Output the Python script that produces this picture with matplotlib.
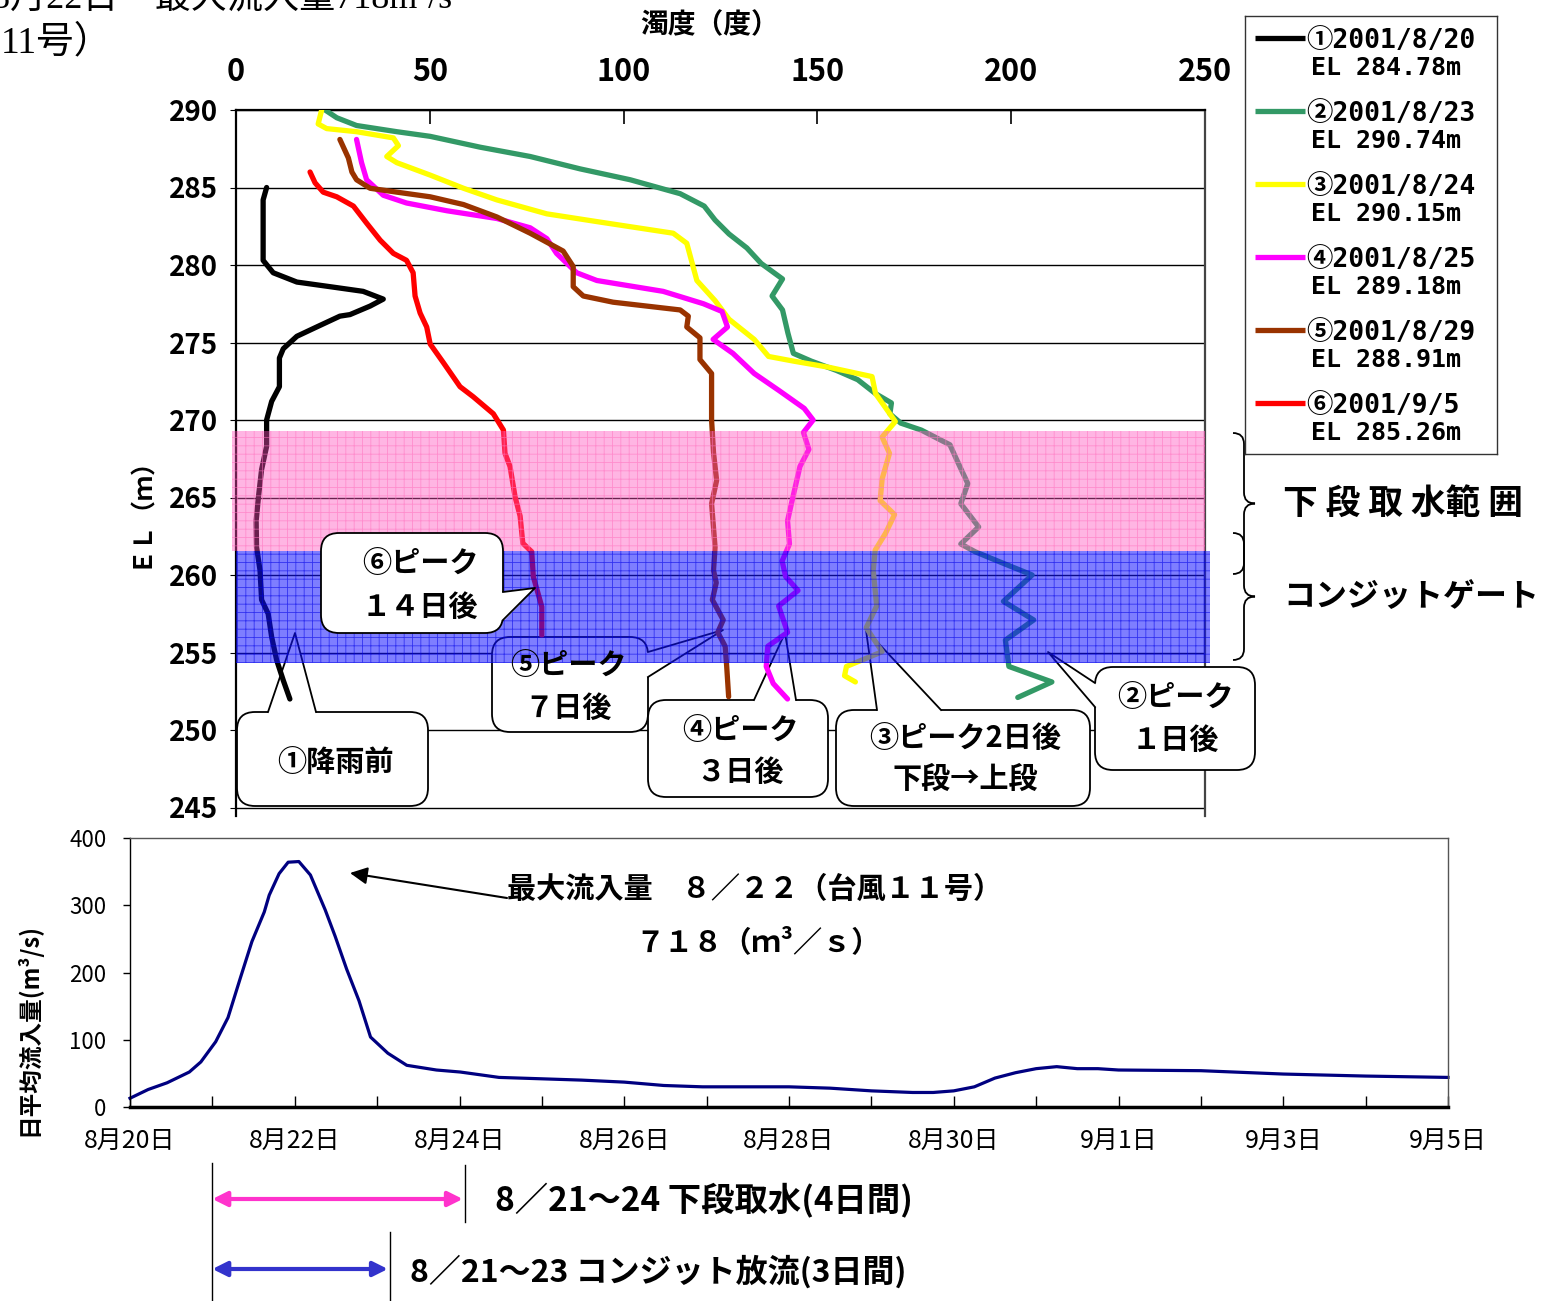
import matplotlib
matplotlib.use("Agg")
import matplotlib.pyplot as plt
import matplotlib.transforms as mtransforms
from matplotlib.patches import FancyBboxPatch, Polygon, PathPatch
from matplotlib.path import Path

plt.rcParams["font.family"] = ["Noto Sans CJK JP", "DejaVu Sans"]
plt.rcParams["hatch.linewidth"] = 0.6

W, H = 1542, 1301
MONO = ["DejaVu Sans Mono", "Noto Sans CJK JP"]
SERIF = ["Liberation Serif", "Noto Sans CJK JP"]

# --- turbidity profiles (turbidity in deg, elevation in m)
p1_turb = [7.9, 7.0, 7.0, 9.6, 15.7, 24.3, 32.8, 38.0, 34.6, 29.4, 26.8, 20.8, 15.7, 12.2, 11.2,
           11.2, 9.2, 7.9, 7.9, 6.6, 5.8, 5.2, 5.3, 6.2, 6.6, 8.3, 9.2, 10.5, 12.2, 13.9]
p1_el = [285.0, 284.2, 280.3, 279.5, 278.9, 278.6, 278.3, 277.8, 277.35, 276.8, 276.7, 276.0, 275.4,
         274.6, 274.0, 272.15, 271.2, 270.0, 268.3, 266.8, 265.05, 263.5, 261.8, 260.3, 258.4, 257.5,
         256.0, 254.5, 253.2, 252.0]

p2_turb = [23.0, 26.0, 31.1, 41.5, 50.1, 63.0, 75.9, 88.8, 101.7, 114.6, 120.8, 123.6, 127.2, 131.8,
           135.5, 141.0, 138.3, 141.0, 142.4, 143.8, 148.4, 154.9, 160.4, 165.0, 169.1, 168.7, 171.5,
           176.8, 184.2, 186.0, 188.8, 187.0, 191.6, 187.0, 190.7, 198.0, 205.4, 198.0, 205.8, 198.5,
           199.4, 210.5, 201.7]
p2_el = [290.0, 289.5, 289.0, 288.6, 288.3, 287.6, 287.0, 286.2, 285.5, 284.6, 283.8, 282.9, 282.0,
         281.1, 280.1, 279.1, 278.0, 277.1, 275.6, 274.3, 273.8, 273.2, 272.6, 271.7, 271.1, 270.4,
         269.8, 269.35, 268.4, 267.4, 265.9, 264.6, 263.1, 262.0, 261.5, 260.75, 260.0, 258.3, 257.1,
         255.8, 254.1, 253.1, 252.1]

p3_turb = [22.1, 21.2, 23.4, 31.1, 40.6, 41.9, 38.9, 41.5, 50.1, 58.7, 67.3, 80.2, 93.1, 112.8, 116.3,
           118.9, 123.6, 127.2, 133.7, 137.4, 143.8, 153.0, 164.1, 165.0, 170.1, 166.7, 168.6, 166.7,
           166.2, 169.9, 167.6, 164.9, 164.4, 165.3, 162.6, 166.7, 157.5, 157.0, 159.8]
p3_el = [290.0, 289.1, 288.8, 288.6, 288.2, 287.7, 287.0, 286.6, 285.8, 284.95, 284.2, 283.3, 282.8,
         282.05, 281.4, 279.0, 277.7, 276.5, 275.2, 274.1, 273.8, 273.4, 272.8, 271.7, 269.9, 268.9,
         267.85, 266.2, 264.8, 263.9, 262.7, 261.6, 260.3, 258.0, 256.6, 255.05, 254.1, 253.5, 253.1]

p4_turb = [31.1, 32.4, 33.7, 38.0, 44.0, 54.4, 67.3, 75.9, 80.2, 82.7, 87.9, 93.1, 110.2, 120.6, 125.4,
           126.8, 123.1, 128.2, 133.7, 140.1, 146.6, 148.9, 146.4, 147.8, 145.5, 143.7, 142.3, 142.8,
           140.9, 141.8, 145.0, 140.0, 142.3, 137.2, 136.8, 138.6, 142.3]
p4_el = [288.1, 286.6, 285.5, 284.5, 284.0, 283.5, 283.0, 282.4, 281.7, 280.75, 279.5, 279.0, 278.3,
         277.5, 277.0, 276.0, 275.2, 274.3, 273.0, 271.9, 270.75, 270.0, 269.2, 268.1, 267.0, 265.05,
         263.5, 262.0, 260.9, 259.9, 259.0, 258.0, 256.3, 255.4, 254.1, 253.0, 252.0]

p5_turb = [26.8, 29.0, 29.9, 31.1, 34.6, 41.5, 50.1, 58.7, 67.3, 75.9, 84.4, 87.0, 87.0, 89.6, 97.3,
           114.6, 116.7, 116.3, 119.7, 119.7, 122.7, 122.7, 123.2, 124.0, 122.7, 123.6, 123.2, 123.9,
           122.9, 125.7, 124.3, 126.2, 126.6, 127.1]
p5_el = [288.1, 286.9, 286.0, 285.5, 284.95, 284.7, 284.4, 283.9, 283.1, 282.05, 280.9, 279.9, 278.6,
         278.0, 277.6, 277.1, 276.7, 276.0, 275.3, 273.9, 273.0, 270.0, 267.9, 266.1, 264.6, 261.8,
         260.3, 259.5, 258.4, 257.1, 256.3, 255.4, 254.1, 252.15]

p6_turb = [19.1, 20.4, 22.5, 26.0, 30.3, 33.7, 37.2, 40.6, 44.0, 45.7, 46.2, 47.5, 49.2, 50.1, 53.5,
           57.8, 61.2, 66.4, 69.0, 69.4, 70.7, 72.0, 73.3, 74.0, 76.3, 76.7, 78.9, 78.9]
p6_el = [286.0, 285.3, 284.7, 284.4, 283.8, 282.7, 281.6, 280.75, 280.3, 279.5, 278.0, 276.9, 276.0,
         274.9, 273.7, 272.15, 271.5, 270.4, 269.35, 267.85, 267.0, 265.05, 263.8, 262.05, 261.5,
         259.9, 257.95, 256.1]

profile_dates = ["①2001/8/20", "②2001/8/23", "③2001/8/24", "④2001/8/25", "⑤2001/8/29", "⑥2001/9/5"]
profile_levels = ["EL 284.78m", "EL 290.74m", "EL 290.15m", "EL 289.18m", "EL 288.91m", "EL 285.26m"]
profile_colors = ["#000000", "#339966", "#ffff00", "#ff00ff", "#993300", "#ff0000"]
profile_data = [(p1_turb, p1_el), (p2_turb, p2_el), (p3_turb, p3_el),
                (p4_turb, p4_el), (p5_turb, p5_el), (p6_turb, p6_el)]

lower_intake_band = (261.55, 269.3)
conduit_band = (254.3, 261.55)

# --- daily mean inflow (days after 8/20, m3/s)
flow_day = [0, 0.22, 0.45, 0.72, 0.86, 1.04, 1.19, 1.34, 1.48, 1.63, 1.69, 1.81, 1.92, 2.05, 2.19,
            2.37, 2.49, 2.63, 2.78, 2.92, 3.13, 3.36, 3.72, 4.01, 4.48, 5.48, 6.0, 6.48, 6.95, 8.0,
            8.5, 9.0, 9.5, 9.75, 10.0, 10.25, 10.5, 10.75, 11.0, 11.25, 11.5, 11.75, 12.0, 13.0,
            14.0, 15.0, 16.0]
flow = [13, 26, 36, 52, 67, 97, 133, 192, 246, 290, 315, 347, 364, 365, 345, 293, 254, 205, 158,
        104, 80, 62, 55, 52, 44, 40, 37, 32, 30, 30, 28, 24, 21.6, 21.6, 24, 30, 43, 51, 57, 60, 57,
        57, 55, 54, 49, 46, 44]
date_labels = ["8月20日", "8月22日", "8月24日", "8月26日", "8月28日", "8月30日", "9月1日", "9月3日", "9月5日"]
intake_span = (1.0, 4.04)     # 8/21-24 lower intake
conduit_span = (1.0, 3.13)    # 8/21-23 conduit release

fig = plt.figure(figsize=(W / 100, H / 100), dpi=100)
# pixel coordinates, y pointing down
pxT = mtransforms.Affine2D().scale(1.0 / W, -1.0 / H).translate(0, 1) + fig.transFigure

# ---------------- top chart
ax = fig.add_axes([236 / W, 1 - 816 / H, (1205 - 236) / W, (816 - 110) / H])
for (t, e), c in zip(profile_data, profile_colors):
    ax.plot(t, e, color=c, lw=3.8, solid_capstyle="round", solid_joinstyle="round", zorder=3.3)

ax.axhspan(*lower_intake_band, xmin=-0.004, xmax=1.0, facecolor=(1, 0.31, 0.74, 0.42),
           edgecolor=(1, 0.45, 0.75, 0.6), hatch="++", lw=0, zorder=3.5, clip_on=False)
ax.axhspan(*conduit_band, xmin=0, xmax=1.005, facecolor=(0.08, 0.08, 1, 0.55),
           edgecolor=(0, 0, 0.9, 0.6), hatch="++", lw=0, zorder=3.5, clip_on=False)

ax.xaxis.tick_top()
ax.set_xticks([0, 50, 100, 150, 200, 250])
ax.set_yticks(range(245, 291, 5))
ax.tick_params(axis="x", direction="in", length=10, width=1.2, pad=16, labelsize=22)
ax.tick_params(axis="y", direction="out", length=4, pad=9, labelsize=20)
for lbl in ax.get_xticklabels() + ax.get_yticklabels():
    lbl.set_fontweight("bold")
ax.grid(axis="y", color="black", lw=1)
ax.set_axisbelow(True)
ax.spines["bottom"].set_visible(False)
ax.spines["top"].set_linewidth(1.6)
ax.spines["left"].set_linewidth(1.6)
ax.spines["right"].set_linewidth(1.6)
ax.spines["right"].set_color("#444444")

ax.text(710, 25, "濁度（度）", transform=pxT, ha="center", va="center", fontsize=20, fontweight="bold")
ax.text(140, 505, "ＥＬ（ｍ）", transform=pxT, ha="center", va="center", rotation=90,
        fontsize=18, fontweight="bold")


def callout(box, base, inward, tip, texts, z):
    x0, y0, x1, y1 = box
    ax.add_patch(FancyBboxPatch((x0, y0), x1 - x0, y1 - y0, boxstyle="round,pad=0,rounding_size=18",
                                transform=pxT, facecolor="white", edgecolor="black", lw=1.3,
                                zorder=z, clip_on=False))
    (bx1, by1), (bx2, by2) = base
    dx, dy = inward
    pts = [(bx1 + dx, by1 + dy), (bx1 - dx * 0.4, by1 - dy * 0.4), tip,
           (bx2 - dx * 0.4, by2 - dy * 0.4), (bx2 + dx, by2 + dy)]
    ax.add_patch(Polygon(pts, closed=True, transform=pxT, facecolor="white", edgecolor="none",
                         zorder=z + 0.01, clip_on=False))
    ax.plot([bx1, tip[0], bx2], [by1, tip[1], by2], transform=pxT, color="black", lw=1.3,
            zorder=z + 0.02, clip_on=False)
    for s, cx, cy in texts:
        ax.text(cx, cy, s, transform=pxT, ha="center", va="center", fontsize=21,
                fontweight="bold", zorder=4.5)


callout((237, 712, 428, 806), ((268, 712), (316, 712)), (0, 4), (295, 633),
        [("①降雨前", 335, 762)], 3.2)
callout((321, 533, 503, 633), ((503, 592), (503, 620)), (-4, 0), (535, 588),
        [("⑥ピーク", 420, 563), ("１４日後", 420, 607)], 4.0)
callout((492, 637, 648, 732), ((648, 652), (648, 677)), (-4, 0), (723, 630),
        [("⑤ピーク", 568, 665), ("７日後", 568, 708)], 3.2)
callout((648, 700, 828, 797), ((754, 700), (796, 700)), (0, 4), (785, 633),
        [("④ピーク", 740, 730), ("３日後", 740, 772)], 3.2)
callout((836, 710, 1090, 806), ((877, 710), (941, 710)), (0, 4), (866, 630),
        [("③ピーク2日後", 965, 738), ("下段→上段", 965, 779)], 3.2)
callout((1095, 667, 1255, 770), ((1095, 683), (1095, 707)), (4, 0), (1048, 652),
        [("②ピーク", 1175, 697), ("１日後", 1175, 740)], 3.2)


def brace(x0, y0, y1, d=11):
    ym = (y0 + y1) / 2
    verts = [(x0, y0), (x0 + d, y0), (x0 + d, y0 + d), (x0 + d, ym - d), (x0 + d, ym), (x0 + 2 * d, ym),
             (x0 + d, ym), (x0 + d, ym + d), (x0 + d, y1 - d), (x0 + d, y1), (x0, y1)]
    codes = [Path.MOVETO, Path.CURVE3, Path.CURVE3, Path.LINETO, Path.CURVE3, Path.CURVE3,
             Path.CURVE3, Path.CURVE3, Path.LINETO, Path.CURVE3, Path.CURVE3]
    ax.add_patch(PathPatch(Path(verts, codes), transform=pxT, facecolor="none", edgecolor="black",
                           lw=1.3, clip_on=False))


brace(1233, 433, 574)
brace(1233, 533, 660)
ax.text(1283, 503, "下 段 取 水範 囲", transform=pxT, ha="left", va="center", fontsize=25, fontweight="bold")
ax.text(1283, 597, "コンジットゲート", transform=pxT, ha="left", va="center", fontsize=23, fontweight="bold")

# slide text left over in the top-left corner (top line cut by the frame as in the source)
ax.text(-8, 8, "8月22日　最大流入量718m³/s", transform=pxT, ha="left", va="baseline",
        fontsize=26, family=SERIF)
ax.text(1, 52, "11号）", transform=pxT, ha="left", va="baseline", fontsize=27, family=SERIF)

ax.set_xlim(0, 250)
ax.set_ylim(290 - (816 - 110) / 15.5, 290)

# legend box
lg = fig.add_axes([1245 / W, 1 - 454 / H, 252 / W, 438 / H])
for i, (name, lvl, c) in enumerate(zip(profile_dates, profile_levels, profile_colors)):
    y = 38 + 73 * i
    lg.plot([1255, 1305], [y, y], color=c, lw=3.8, solid_capstyle="butt")
    lg.text(1306, y + 3, name, ha="left", va="center", fontsize=19, fontweight="bold", family=MONO)
    lg.text(1311, y + 30, lvl, ha="left", va="center", fontsize=18, fontweight="bold", family=MONO)
lg.set_xlim(1245, 1497)
lg.set_ylim(454, 16)
lg.set_xticks([])
lg.set_yticks([])
for sp in lg.spines.values():
    sp.set_linewidth(1.0)
    sp.set_color("#333333")

# ---------------- bottom chart
ax2 = fig.add_axes([130 / W, 1 - 1107 / H, 1318 / W, 269 / H])
ax2.plot(flow_day, flow, color="#000080", lw=2.3, clip_on=False)
ax2.set_xticks(range(0, 17, 2), labels=date_labels)
ax2.set_xticks(range(17), minor=True)
ax2.set_yticks([0, 100, 200, 300, 400])
ax2.tick_params(axis="x", which="both", direction="in", length=8, width=1, pad=15, labelsize=18)
ax2.tick_params(axis="y", direction="out", length=5, width=1, pad=12, labelsize=16)
for sp in ("top", "right"):
    ax2.spines[sp].set_color("#555555")
    ax2.spines[sp].set_linewidth(1)
ax2.spines["left"].set_linewidth(1)
ax2.spines["bottom"].set_linewidth(2.5)

ax2.text(28, 1030, "日平均流入量(m³/s)", transform=pxT, ha="center", va="center", rotation=90,
         fontsize=17, fontweight="bold")

ax2.annotate("", xy=(350, 873), xytext=(507, 898), xycoords=pxT, textcoords=pxT,
             arrowprops=dict(arrowstyle="-|>", color="black", lw=1.5, mutation_scale=26,
                             shrinkA=0, shrinkB=0), annotation_clip=False)
ax2.text(507, 889, "最大流入量　８／２２（台風１１号）", transform=pxT, ha="left", va="center",
         fontsize=21, fontweight="bold")
ax2.text(635, 942, "７１８（ｍ³／ｓ）", transform=pxT, ha="left", va="center",
         fontsize=21, fontweight="bold")

# intake / conduit periods below the chart
bt = mtransforms.blended_transform_factory(ax2.transData, pxT)
ax2.annotate("", xy=(intake_span[1], 1199), xytext=(intake_span[0], 1199), xycoords=bt, textcoords=bt,
             arrowprops=dict(arrowstyle="<|-|>", color="#ff33cc", lw=3, mutation_scale=22,
                             shrinkA=0, shrinkB=0), annotation_clip=False)
ax2.annotate("", xy=(conduit_span[1], 1269), xytext=(conduit_span[0], 1269), xycoords=bt, textcoords=bt,
             arrowprops=dict(arrowstyle="<|-|>", color="#3333cc", lw=3, mutation_scale=22,
                             shrinkA=0, shrinkB=0), annotation_clip=False)
ax2.plot([intake_span[0]] * 2, [1163, 1301], transform=bt, color="black", lw=1, clip_on=False)
ax2.plot([intake_span[1] + 0.03] * 2, [1165, 1222], transform=bt, color="black", lw=1, clip_on=False)
ax2.plot([conduit_span[1] + 0.03] * 2, [1232, 1301], transform=bt, color="black", lw=1, clip_on=False)
ax2.text(495, 1201, "8／21～24 下段取水(4日間)", transform=pxT, ha="left", va="center",
         fontsize=24, fontweight="bold")
ax2.text(410, 1272, "8／21～23 コンジット放流(3日間)", transform=pxT, ha="left", va="center",
         fontsize=23, fontweight="bold")

ax2.set_xlim(0, 16)
ax2.set_ylim(0, 400)

fig.savefig("out.png", dpi=100)
